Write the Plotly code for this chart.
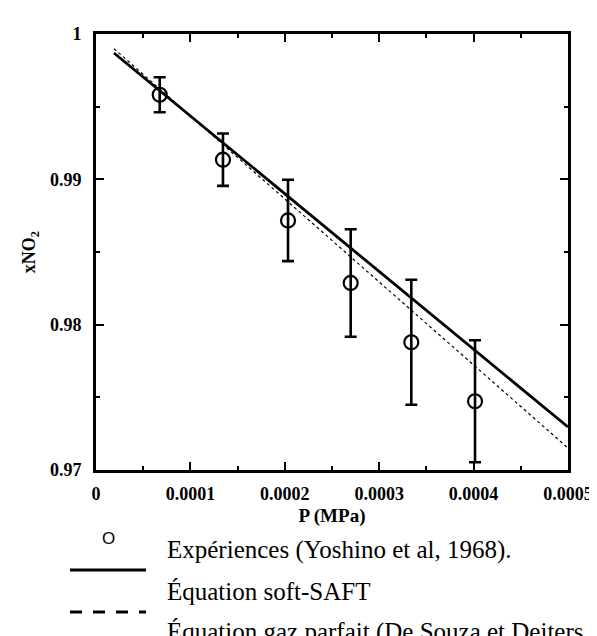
import plotly.graph_objects as go

# ---- data ----
p_exp = [0.0000675, 0.0001345, 0.0002034, 0.0002698, 0.000334, 0.0004015]
x_exp = [0.99582, 0.99135, 0.98717, 0.98287, 0.97879, 0.97473]
err_exp = [0.0012, 0.0018, 0.0028, 0.0037, 0.0043, 0.0042]

p_saft = [0.000019, 0.0001, 0.0002, 0.0003, 0.0004, 0.0005]
x_saft = [0.99869, 0.99436, 0.98901, 0.98366, 0.97831, 0.97296]

p_ig = [0.000019, 0.0001, 0.0002, 0.0003, 0.0004, 0.0005]
x_ig = [0.99899, 0.99436, 0.98865, 0.98294, 0.97722, 0.97151]

x_tickvals = [0, 0.0001, 0.0002, 0.0003, 0.0004, 0.0005]
x_ticktext = ["0", "0.0001", "0.0002", "0.0003", "0.0004", "0.0005"]
y_tickvals = [0.97, 0.98, 0.99, 1.0]
y_ticktext = ["0.97", "0.98", "0.99", "1"]

legend_labels = [
    "Expériences (Yoshino et al, 1968).",
    "Équation soft-SAFT",
    "Équation gaz parfait (De Souza et Deiters,",
]

SERIF = "Liberation Serif, Times New Roman, serif"
W, H = 597, 636
L, R, T, B = 88, 560, 26, 462


def px(xp):
    return (xp - L) / (R - L)


def py(yp):
    return (B - yp) / (B - T)


fig = go.Figure()
fig.add_trace(go.Scatter(
    x=p_ig, y=x_ig, mode="lines",
    line=dict(color="black", width=1.2, dash="dot"),
))
fig.add_trace(go.Scatter(
    x=p_saft, y=x_saft, mode="lines",
    line=dict(color="black", width=2.8),
))
fig.add_trace(go.Scatter(
    x=p_exp, y=x_exp, mode="markers",
    marker=dict(symbol="circle-open", size=14, color="black", line=dict(width=2.2, color="black")),
    error_y=dict(type="data", array=err_exp, visible=True, color="black", thickness=2.6, width=6),
))

tickfont = dict(family=SERIF, size=18, color="black", weight="bold")
axis_common = dict(
    showline=True, linewidth=2.6, linecolor="black", mirror="ticks",
    ticks="inside", ticklen=8, tickwidth=2, tickcolor="black",
    showgrid=False, zeroline=False, tickfont=tickfont,
)

fig.update_xaxes(
    range=[0, 0.0005], tickvals=x_tickvals, ticktext=x_ticktext,
    minor=dict(ticks="inside", ticklen=4, tickwidth=2, tickcolor="black", dtick=0.00005, tick0=0, showgrid=False),
    ticklabelstandoff=6,
    title=dict(text="P (MPa)", font=dict(family=SERIF, size=19, color="black", weight="bold"), standoff=6),
    **axis_common,
)
fig.update_yaxes(
    range=[0.97, 1.0], tickvals=y_tickvals, ticktext=y_ticktext,
    minor=dict(ticks="inside", ticklen=4, tickwidth=2, tickcolor="black", dtick=0.005, tick0=0.97, showgrid=False),
    ticklabelstandoff=8,
    title=dict(text="xNO<sub>2</sub>", font=dict(family=SERIF, size=18, color="black", weight="bold"), standoff=10),
    **axis_common,
)

shapes = [
    dict(type="line", xref="paper", yref="paper", x0=px(62), x1=px(138), y0=py(562), y1=py(562),
         line=dict(color="black", width=3.2)),
    dict(type="line", xref="paper", yref="paper", x0=px(62), x1=px(138), y0=py(604), y1=py(604),
         line=dict(color="black", width=3.2, dash="12px,11px")),
]

annotations = [
    dict(text="O", x=px(100), y=py(530), xref="paper", yref="paper", showarrow=False,
         xanchor="center", yanchor="middle", font=dict(family="Liberation Sans, Arial, sans-serif", size=17, color="black")),
]
for i, lab in enumerate(legend_labels):
    annotations.append(dict(
        text=lab, x=px(157), y=py(542 + 41 * i), xref="paper", yref="paper", showarrow=False,
        xanchor="left", yanchor="middle", font=dict(family=SERIF, size=25, color="black"),
    ))

fig.update_layout(
    width=W, height=H,
    margin=dict(l=L, r=W - R, t=T, b=H - B),
    paper_bgcolor="white", plot_bgcolor="white",
    showlegend=False,
    shapes=shapes, annotations=annotations,
)

fig.write_html("out.html")
